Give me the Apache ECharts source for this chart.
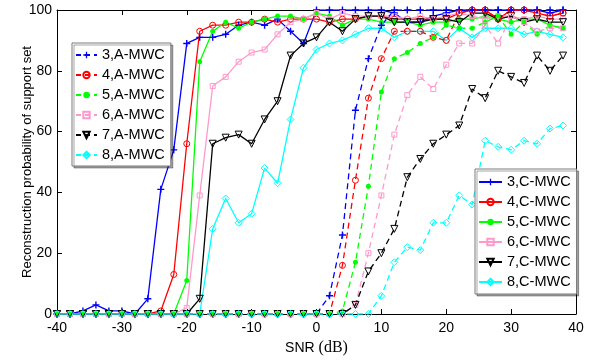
<!DOCTYPE html>
<html>
<head>
<meta charset="utf-8">
<script src="https://cdn.jsdelivr.net/npm/echarts@6/dist/echarts.min.js"></script>
<style>html,body{margin:0;padding:0;background:#fff}#c{width:590px;height:361px}</style>
</head>
<body>
<div id="c"></div>
<script>
// SNR (dB) sample points
var snr = [-40,-38,-36,-34,-32,-30,-28,-26,-24,-22,-20,-18,-16,-14,-12,-10,-8,-6,-4,-2,0,2,4,6,8,10,12,14,16,18,20,22,24,26,28,30,32,34,36,38];
var xTicks = [-40,-30,-20,-10,0,10,20,30,40];
var yTicks = [0,20,40,60,80,100];

// A-MWC (solid)
var a3 = [0,0,1,3,1,1,0,5,41,54, 89,91,91,92,95,96,95,97,93,89, 100,100,100,100,100,100,99,96,96,98, 99,100,100,100,100,100,100,100,99,100];
var a4 = [0,0,0,0,0,0,0,0,1,13, 56,93,95,95,96,96,97,96,97,97, 97,96,97,97,98,98,97,97,97,97, 97,99,100,100,97,100,100,99,98,99];
var a5 = [0,0,0,0,0,0,0,0,0,0, 11,83,93,96,94,96,97,98,98,97, 99,98,95,97,97,96,96,96,95,96, 96,97,97,98,97,96,97,97,95,94];
var a6 = [0,0,0,0,0,0,0,0,0,0, 2,39,75,78,83,86,87,92,96,97, 99,97,99,98,98,98,98,97,98,97, 98,99,98,97,98,98,97,98,97,97];
var a7 = [0,0,0,0,0,0,0,0,0,0, 0,5,56,58,59,56,64,70,85,89, 91,96,93,97,98,98,96,96,96,97, 97,96,99,99,97,98,96,97,96,96];
var a8 = [0,0,0,0,0,0,0,0,0,0, 0,0,28,38,30,33,48,43,64,81, 87,89,90,92,94,94,91,93,93,93, 90,94,91,94,94,94,92,93,92,91];

// C-MWC (dashed)
var c3 = [0,0,0,0,0,0,0,0,0,0, 0,0,0,0,0,0,0,0,0,0, 0,6,26,67,84,95,100,100,100,100, 100,100,100,100,100,100,100,100,100,100];
var c4 = [0,0,0,0,0,0,0,0,0,0, 0,0,0,0,0,0,0,0,0,0, 0,0,16,44,71,84,93,93,93,91, 90,99,100,100,97,100,100,99,98,99];
var c5 = [0,0,0,0,0,0,0,0,0,0, 0,0,0,0,0,0,0,0,0,0, 0,0,1,17,42,73,84,86,89,91, 95,94,94,96,98,92,96,92,95,94];
var c6 = [0,0,0,0,0,0,0,0,0,0, 0,0,0,0,0,0,0,0,0,0, 0,0,0,3,20,39,59,72,78,74, 82,89,89,95,89,98,96,93,94,94];
var c7 = [0,0,0,0,0,0,0,0,0,0, 0,0,0,0,0,0,0,0,0,0, 0,0,0,3,14,20,28,45,51,56, 59,62,74,71,80,78,76,85,80,85];
var c8 = [0,0,0,0,0,0,0,0,0,0, 0,0,0,0,0,0,0,0,0,0, 0,0,0,0,0,6,17,22,21,30, 30,39,36,57,55,54,57,56,61,62];

var namesA = ['3,A-MWC','4,A-MWC','5,A-MWC','6,A-MWC','7,A-MWC','8,A-MWC'];
var namesC = ['3,C-MWC','4,C-MWC','5,C-MWC','6,C-MWC','7,C-MWC','8,C-MWC'];

var colors = ['#0000ff','#ff0000','#00ff00','#ff99cc','#000000','#00ffff'];
var PLUS = 'path://M4,0H6V4H10V6H6V10H4V6H0V4H4Z';
var markers = [
  {symbol: PLUS, size: 7, filled: true, rotate: 0},
  {symbol: 'circle', size: 6, filled: false, rotate: 0},
  {symbol: 'circle', size: 5, filled: true, rotate: 0},
  {symbol: 'rect', size: 5, filled: false, rotate: 0},
  {symbol: 'triangle', size: 7, filled: false, rotate: 180},
  {symbol: 'diamond', size: 7, filled: false, rotate: 0}
];

function pairs(v){ return snr.map(function(x,i){ return [x, v[i]]; }); }

function mk(name, vals, k, dashed){
  var m = markers[k], c = colors[k];
  return {
    name: name, type: 'line', data: pairs(vals),
    symbol: m.symbol, symbolSize: m.size, symbolRotate: m.rotate,
    showSymbol: true, animation: false,
    lineStyle: {color: c, width: 1.3, type: dashed ? [6,4] : 'solid'},
    itemStyle: m.filled ? {color: c, borderWidth: 0}
                        : {color: 'rgba(255,255,255,0)', borderColor: c, borderWidth: 1},
    emphasis: {disabled: true}
  };
}

var A = [a3,a4,a5,a6,a7,a8], C = [c3,c4,c5,c6,c7,c8];
var series = [];
A.forEach(function(v,k){ series.push(mk(namesA[k], v, k, false)); });
C.forEach(function(v,k){ series.push(mk(namesC[k], v, k, true)); });

var font = 'Liberation Sans, Arial, sans-serif';
var legendText = {fontFamily: font, fontSize: 14.5, color: '#000', lineHeight: 16};

var chart = echarts.init(document.getElementById('c'), null, {renderer: 'canvas'});
chart.setOption({
  animation: false,
  backgroundColor: '#fff',
  grid: {left: 57, right: 14, top: 10, bottom: 45, containLabel: false},
  xAxis: [{
    type: 'value', min: -40, max: 40, interval: 10, position: 'bottom',
    axisLine: {show: true, onZero: false, lineStyle: {color: '#000', width: 1}},
    axisTick: {show: true, inside: true, length: 5, lineStyle: {color: '#000'}},
    axisLabel: {color: '#000', fontFamily: font, fontSize: 14, margin: 7,
      formatter: function(v){ return xTicks.indexOf(v) >= 0 ? String(v) : ''; }},
    splitLine: {show: false},
    name: '{a|SNR }{b|(dB)}', nameLocation: 'middle', nameGap: 26, nameMoveOverlap: false,
    nameTextStyle: {rich: {a: {fontFamily: font, fontSize: 14, color: '#000'},
                           b: {fontFamily: 'Liberation Serif, Times New Roman, serif', fontSize: 16, color: '#000'}}}
  },{
    type: 'value', min: -40, max: 40, interval: 10, position: 'top',
    axisLine: {show: true, onZero: false, lineStyle: {color: '#000', width: 1}},
    axisTick: {show: true, inside: true, length: 5, lineStyle: {color: '#000'}},
    axisLabel: {show: false}, splitLine: {show: false}
  }],
  yAxis: [{
    type: 'value', min: 0, max: 100, interval: 20, position: 'left',
    axisLine: {show: true, onZero: false, lineStyle: {color: '#000', width: 1}},
    axisTick: {show: true, inside: true, length: 5, lineStyle: {color: '#000'}},
    axisLabel: {color: '#000', fontFamily: font, fontSize: 14, margin: 5,
      formatter: function(v){ return yTicks.indexOf(v) >= 0 ? String(v) : ''; }},
    splitLine: {show: false},
    name: 'Reconstruction probability of support set', nameLocation: 'middle', nameGap: 23,
    nameMoveOverlap: false,
    nameTextStyle: {fontFamily: font, fontSize: 13, color: '#000'}
  },{
    type: 'value', min: 0, max: 100, interval: 20, position: 'right',
    axisLine: {show: true, onZero: false, lineStyle: {color: '#000', width: 1}},
    axisTick: {show: true, inside: true, length: 5, lineStyle: {color: '#000'}},
    axisLabel: {show: false}, splitLine: {show: false}
  }],
  legend: [{
    data: namesA, orient: 'vertical', left: 72, top: 43,
    itemWidth: 21, itemHeight: 8, itemGap: 4, padding: [4,6,3,3],
    textStyle: legendText, selectedMode: false,
    lineStyle: {type: [5,4]},
    backgroundColor: '#fff', borderColor: '#7a7a7a', borderWidth: 1,
    shadowColor: 'rgba(0,0,0,0.35)', shadowOffsetX: 2, shadowOffsetY: 2, shadowBlur: 0
  },{
    data: namesC, orient: 'vertical', left: 475, top: 169,
    itemWidth: 23, itemHeight: 8, itemGap: 4, padding: [5,6,4,3],
    textStyle: legendText, selectedMode: false,
    lineStyle: {type: 'solid'},
    backgroundColor: '#fff', borderColor: '#7a7a7a', borderWidth: 1,
    shadowColor: 'rgba(0,0,0,0.35)', shadowOffsetX: 2, shadowOffsetY: 2, shadowBlur: 0
  }],
  series: series
});
</script>
</body>
</html>
